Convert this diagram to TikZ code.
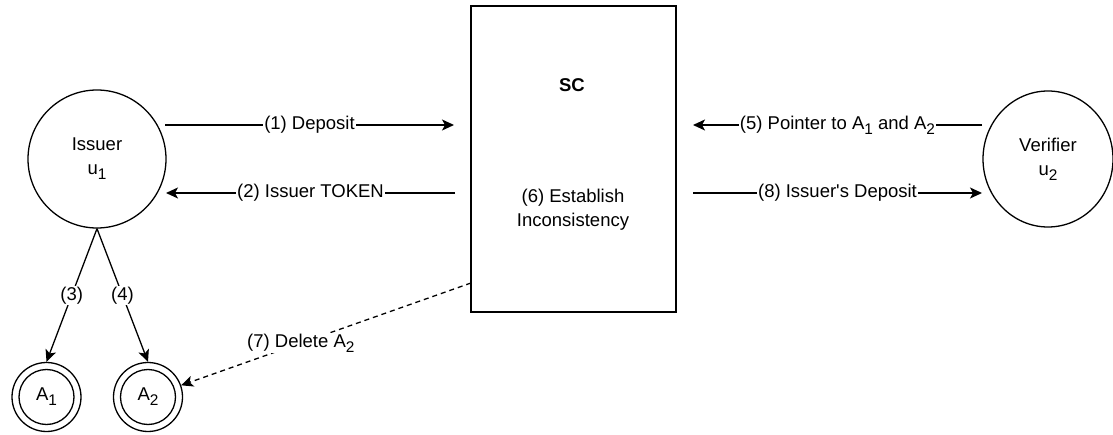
\documentclass[tikz,border=0pt]{standalone}
\usepackage{fontspec}
\setmainfont{Liberation Sans}
\usetikzlibrary{arrows.meta,shapes.geometric}
\newcommand{\sbs}[1]{\raisebox{-5pt}{\fontsize{15.4}{16}\selectfont #1}}
\begin{document}
\begin{tikzpicture}[x=1pt,y=-1pt,
  every node/.style={font=\fontsize{18.5}{24}\selectfont},
  ln/.style={line width=1.3pt},
  arr/.style={ln,-{Stealth[length=12pt,width=11pt,inset=3pt]}},
  lbl/.style={fill=white,inner sep=1pt},
  bigcirc/.style={draw,ln,circle,minimum size=138pt,inner sep=0pt,align=center},
  acirc/.style={draw,ln,circle,minimum size=69pt,inner sep=0pt}]
\useasboundingbox (0,0) rectangle (1113,435);
% nodes
\node[bigcirc] (iss) at (97,159) {Issuer\\u\sbs{1}};
\node[draw,ln,ellipse,minimum width=130pt,minimum height=136pt,inner sep=0pt,align=center] (ver) at (1048,159) {Verifier\\u\sbs{2}};
\node[draw,ln,minimum width=205pt,minimum height=306pt,inner sep=0pt] (sc) at (573.5,159) {};
\node[font=\fontsize{18.5}{23}\selectfont\bfseries] (sct) at (572,85) {SC};
\node[align=center] (est) at (573,210) {(6) Establish\\Inconsistency};
\node[acirc] (a1) at (46.5,397) {A\sbs{1}};
\node[acirc] (a2) at (148,397) {A\sbs{2}};
\draw[ln] (a1) circle (27.5);
\draw[ln] (a2) circle (27.5);
% edge endpoints
\coordinate (d1s) at (165,125);
\coordinate (d1e) at (454,125);
\coordinate (d2s) at (455,193);
\coordinate (d2e) at (166,193);
\coordinate (d5s) at (982,125);
\coordinate (d5e) at (693,125);
\coordinate (d8s) at (693,193);
\coordinate (d8e) at (982,193);
\coordinate (d7s) at (471,283);
% edges
\draw[arr] (d1s) -- node[lbl] {(1) Deposit} (d1e);
\draw[arr] (d2s) -- node[lbl] {(2) Issuer TOKEN} (d2e);
\draw[arr] (d5s) -- node[lbl] {(5) Pointer to A\sbs{1} and A\sbs{2}} (d5e);
\draw[arr] (d8s) -- node[lbl] {(8) Issuer\textquotesingle s Deposit} (d8e);
\draw[arr] (iss.south) -- node[lbl] {(3)} (a1.north);
\draw[arr] (iss.south) -- node[lbl] {(4)} (a2.north);
\draw[arr,dash pattern=on 5pt off 4pt] (d7s) -- node[lbl,pos=0.587] {(7) Delete A\sbs{2}} (a2);
\end{tikzpicture}
\end{document}
